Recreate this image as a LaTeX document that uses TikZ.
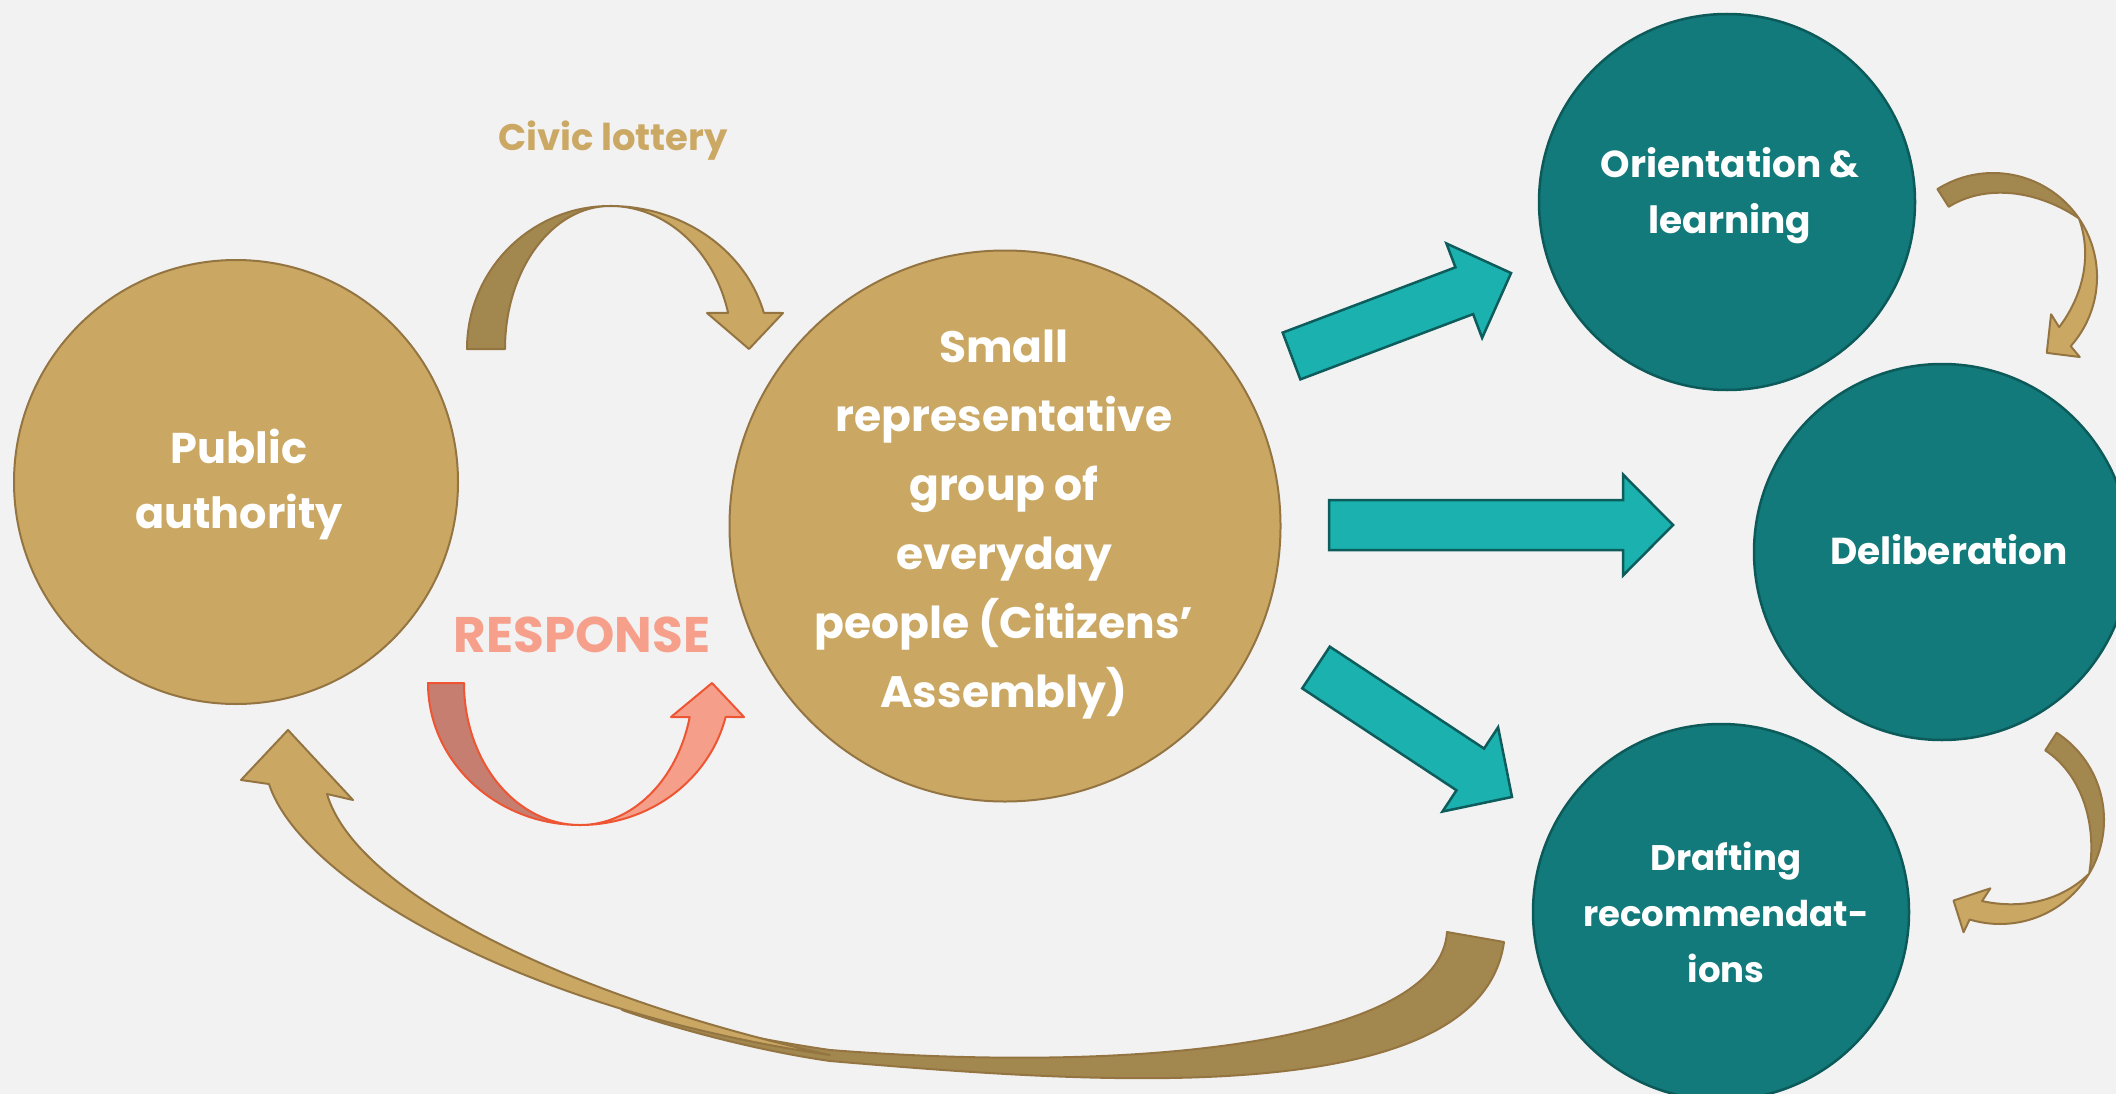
\documentclass[tikz,border=0pt]{standalone}
\usepackage{fontspec}
\setmainfont{Poppins}
\definecolor{bgc}{HTML}{F2F2F2}
\definecolor{goldfill}{HTML}{CAA864}
\definecolor{goldedge}{HTML}{947542}
\definecolor{golddark}{HTML}{A2874F}
\definecolor{tealfill}{HTML}{127A7A}
\definecolor{tealedge}{HTML}{0C5A5A}
\definecolor{tealarrow}{HTML}{1AB1AF}
\definecolor{tealarrowedge}{HTML}{0E5C5C}
\definecolor{civictext}{HTML}{CBA964}
\definecolor{resptext}{HTML}{F6A08C}
\definecolor{resplight}{HTML}{F59E8A}
\definecolor{respdark}{HTML}{C57E6F}
\definecolor{respedge}{HTML}{EE5533}
\tikzset{
  goldcircle/.style={circle, fill=goldfill, draw=goldedge, line width=2pt, inner sep=0pt},
  tealcircle/.style={circle, fill=tealfill, draw=tealedge, line width=2.5pt, inner sep=0pt},
  lbl/.style={text=white, align=center, inner sep=0pt},
  blockarrow/.style={fill=tealarrow, draw=tealarrowedge, line width=2.5pt, line join=miter},
  arrdark/.style={fill=golddark, draw=goldedge, line width=2pt, line join=round},
  arrlight/.style={fill=goldfill, draw=goldedge, line width=2pt, line join=round},
  rdark/.style={fill=respdark, draw=respedge, line width=2pt, line join=round},
  rlight/.style={fill=resplight, draw=respedge, line width=2pt, line join=round}
}
\newcommand\blockarr[4]{%
  \begin{scope}[shift={(#1,#2)}, rotate=#3]
    \draw[blockarrow] (0,-25) -- ({#4-50},-25) -- ({#4-50},-50.5) -- (#4,0)
      -- ({#4-50},50.5) -- ({#4-50},25) -- (0,25) -- cycle;
  \end{scope}}
\newcommand\circarr[3]{%
  \begin{scope}[shift={(#1,#2)}]
    \pgfmathsetmacro\caA{#3}
    \pgfmathsetmacro\caW{#3+88}
    \pgfmathsetmacro\caP{#3+177}
    \pgfmathsetmacro\caE{\caP-17.5}
    \pgfmathsetmacro\caO{\caP-13}
    \filldraw[arrlight]
      plot[domain=0:1, samples=40, variable=\s]
        ({104*cos(\caW+(\caO-\caW)*\s)}, {104*sin(\caW+(\caO-\caW)*\s)})
      -- ({\caP-12}:118) -- (\caP:93) -- ({\caP-22}:69) -- (\caE:83)
      -- plot[domain=0:1, samples=40, variable=\s]
        ({(104-21*sin(90*(1-\s)))*cos(\caE-(\caE-\caW)*\s)},
         {(104-21*sin(90*(1-\s)))*sin(\caE-(\caE-\caW)*\s)})
      -- cycle;
    \filldraw[arrdark]
      plot[domain=0:1, samples=40, variable=\s]
        ({104*cos(\caA+88*\s)}, {104*sin(\caA+88*\s)})
      -- plot[domain=0:1, samples=40, variable=\s]
        ({(104-21*(1-(1-\s)^3))*cos(\caW-88*\s)},
         {(104-21*(1-(1-\s)^3))*sin(\caW-88*\s)})
      -- cycle;
  \end{scope}}
\begin{document}
\begin{tikzpicture}[x=1pt, y=1pt, yscale=-1]
  \useasboundingbox (0,0) rectangle (2116,1094);
  \clip (0,0) rectangle (2116,1094);
  \fill[bgc] (0,0) rectangle (2116,1094);

  % circles
  \node[goldcircle, minimum size=444pt] (pa) at (236,482) {};
  \node[goldcircle, minimum size=551pt] (sr) at (1005,526) {};
  \node[tealcircle, minimum size=376pt] (ol) at (1727,202) {};
  \node[tealcircle, minimum size=376pt] (dl) at (1942,552) {};
  \node[tealcircle, minimum size=376pt] (dr) at (1721,912) {};

  % labels
  \node[lbl, font={\fontsize{43}{65}\selectfont\bfseries}] (patext) at (239,484) {Public\\authority};
  \node[lbl, font={\fontsize{44}{69}\selectfont\bfseries}] (srtext) at (1004,525)
    {Small\\representative\\group of\\everyday\\people (Citizens’\\Assembly)};
  \node[lbl, font={\fontsize{37.5}{56}\selectfont\bfseries}] (oltext) at (1730,196) {Orientation \&\\learning};
  \node[lbl, font={\fontsize{37.5}{56}\selectfont\bfseries}, anchor=base] (dltext) at (1949,564) {Deliberation};
  \node[lbl, font={\fontsize{35.5}{56}\selectfont\bfseries}] (drtext) at (1726,912) {Drafting\\recommendat-\\ions};
  \node[inner sep=0pt, text=civictext, font={\fontsize{37}{46}\selectfont\bfseries}, anchor=base] (civic) at (613,151) {Civic lottery};
  \node[inner sep=0pt, text=resptext, font={\fontsize{50}{60}\selectfont\bfseries}, anchor=base] (resp) at (582,652) {RESPONSE};

  % teal block arrows
  \blockarr{1291.5}{356}{-20.7}{234.7}
  \blockarr{1329}{525}{0}{344}
  \blockarr{1316}{667.5}{33.45}{234.9}

  % civic lottery curved arrow
  \filldraw[arrdark] (467,349) arc[start angle=180, end angle=270, x radius=143, y radius=143]
    arc[start angle=270, end angle=180, x radius=105, y radius=143] -- cycle;
  \filldraw[arrlight] (610,206) arc[start angle=270, end angle=345.4, x radius=159, y radius=143]
    -- (783,313) -- (749,349) -- (707,313) -- (728.1,312.9)
    arc[start angle=345.4, end angle=270, x radius=122, y radius=143] -- cycle;

  % response curved arrow
  \filldraw[rdark] (428,683) arc[start angle=180, end angle=90, x radius=152, y radius=142]
    arc[start angle=90, end angle=180, x radius=116, y radius=142] -- cycle;
  \filldraw[rlight] (580,825) arc[start angle=90, end angle=13.85, x radius=150, y radius=142]
    -- (744,717) -- (712,683) -- (671,717) -- (689.7,717)
    arc[start angle=13.85, end angle=90, x radius=113, y radius=142] -- cycle;

  % circular arrows on the right
  \circarr{1993}{277}{237.7}
  \circarr{2000}{820}{-57}

  % big return arrow
  \filldraw[arrdark] (1504,942) .. controls (1480,1115) and (1080,1082) .. (830,1061)
    .. controls (760,1051) and (680,1030) .. (622,1010)
    .. controls (680,1022) and (760,1040) .. (830,1050)
    .. controls (1150,1075) and (1440,1040) .. (1447,932) -- cycle;
  \filldraw[arrlight] (269,784) .. controls (300,880) and (520,1010) .. (830,1055)
    .. controls (560,995) and (355,890) .. (327,794)
    -- (353,800) -- (288,730) -- (241,780) -- cycle;
\end{tikzpicture}
\end{document}
